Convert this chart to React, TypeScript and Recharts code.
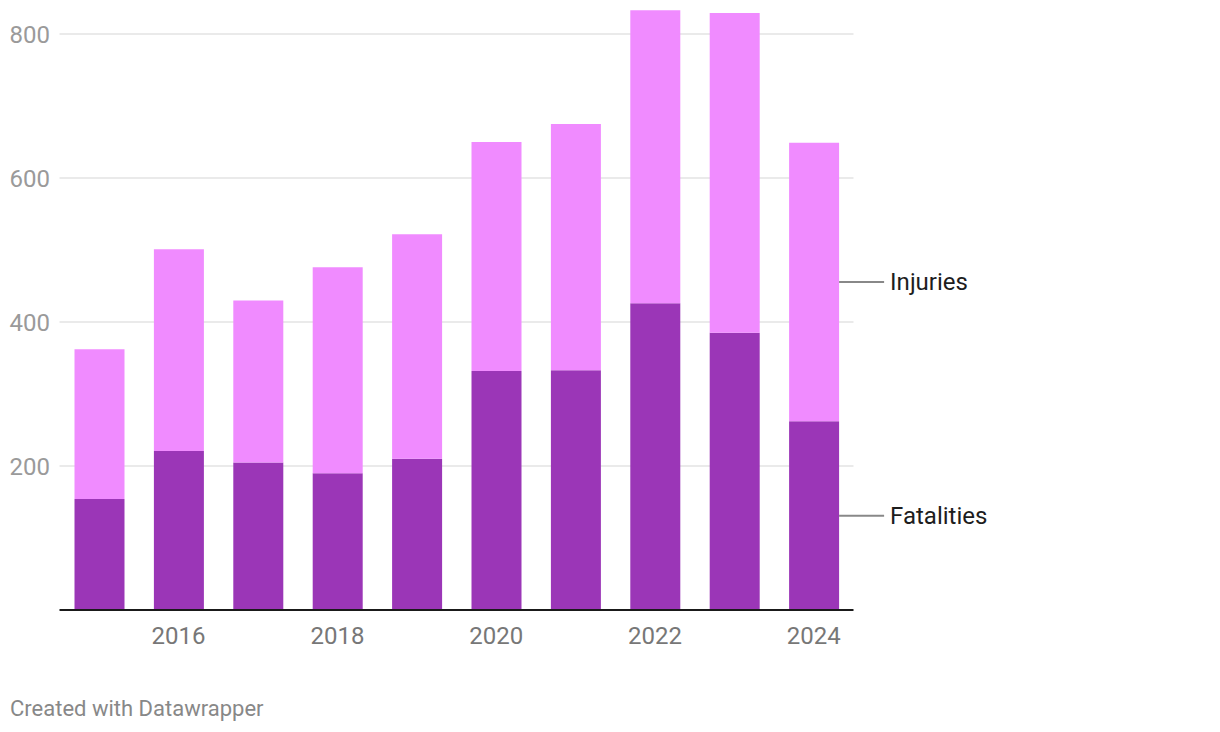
import { BarChart, Bar, XAxis, YAxis, CartesianGrid, LabelList, ReferenceLine } from 'recharts'

const YEARS = ['2015', '2016', '2017', '2018', '2019', '2020', '2021', '2022', '2023', '2024']
const FATALITIES = [154, 221, 205, 190, 210, 332, 333, 426, 385, 262]
const INJURIES = [208, 280, 225, 286, 312, 318, 342, 407, 444, 387]
const Y_TICKS = [0, 200, 400, 600, 800]
const GRID_VALUES = [200, 400, 600, 800]

const FONT = 'Roboto, "Noto Sans", sans-serif'

const data = YEARS.map((year, i) => ({
  year,
  fatalities: FATALITIES[i],
  injuries: INJURIES[i],
}))

// etiqueta ao lado da última barra, com o traço cinza
function seriesLabel(name: string) {
  return (props: any) => {
    const { x, y, width, height, index } = props
    if (index !== YEARS.length - 1) return null
    const x0 = Number(x) + Number(width)
    const yMid = Number(y) + Number(height) / 2
    return (
      <g>
        <line x1={x0} x2={x0 + 45} y1={yMid} y2={yMid} stroke="#888" strokeWidth={2} />
        <text
          x={x0 + 51}
          y={yMid}
          dy="0.35em"
          fill="#1d1d1d"
          fontSize={24}
          fontFamily={FONT}
        >
          {name}
        </text>
      </g>
    )
  }
}

export default function App() {
  return (
    <div style={{ position: 'absolute', left: 0, top: 0, width: 1220, height: 732, background: '#fff' }}>
      <BarChart
        width={1220}
        height={732}
        data={data}
        margin={{ top: 5.2, right: 366.5, left: 0, bottom: 92 }}
        barCategoryGap="18.5%"
      >
        <CartesianGrid
          vertical={false}
          horizontalValues={GRID_VALUES}
          stroke="#e3e3e3"
          strokeWidth={1.5}
        />
        <XAxis
          dataKey="year"
          height={30}
          axisLine={false}
          tickLine={false}
          tickSize={0}
          tickMargin={17}
          interval={0}
          tickFormatter={(v: string) => (Number(v) % 2 === 0 ? v : '')}
          tick={{ fill: '#777', fontSize: 24, fontFamily: FONT }}
        />
        <YAxis
          width={59.5}
          domain={[0, 840]}
          ticks={Y_TICKS}
          axisLine={false}
          tickLine={false}
          tickSize={0}
          tickMargin={9.5}
          tickFormatter={(v: number) => (v === 0 ? '' : String(v))}
          tick={{ fill: '#9a9a9a', fontSize: 24, fontFamily: FONT }}
        />
        <Bar dataKey="fatalities" stackId="a" fill="#9b36b7" barSize={50} isAnimationActive={false}>
          <LabelList dataKey="fatalities" content={seriesLabel('Fatalities')} />
        </Bar>
        <Bar dataKey="injuries" stackId="a" fill="#f08bff" barSize={50} isAnimationActive={false}>
          <LabelList dataKey="injuries" content={seriesLabel('Injuries')} />
        </Bar>
        <ReferenceLine y={0} stroke="#1a1a1a" strokeWidth={2} />
      </BarChart>
      <div
        style={{
          position: 'absolute',
          left: 10,
          top: 696,
          fontFamily: FONT,
          fontSize: 22,
          color: '#888',
        }}
      >
        Created with Datawrapper
      </div>
    </div>
  )
}
